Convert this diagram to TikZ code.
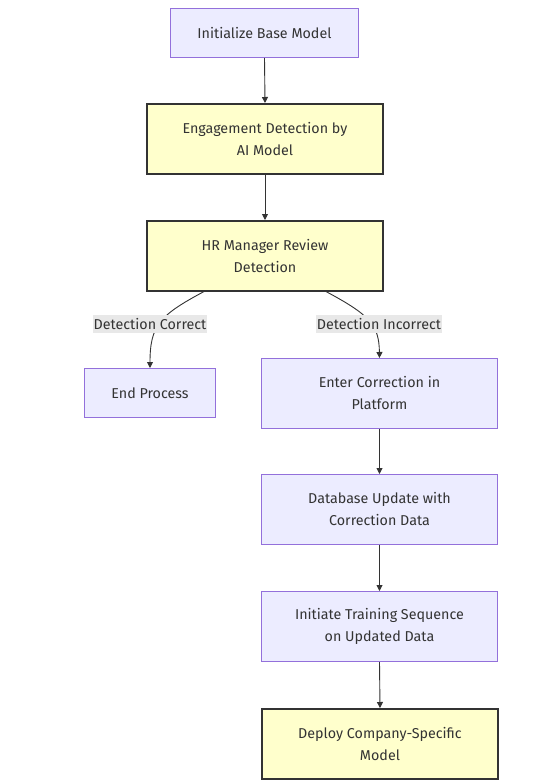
\documentclass[tikz,border=0pt]{standalone}
\usepackage{fontspec}
\setmainfont{Fira Sans}
\usetikzlibrary{arrows.meta}
\definecolor{pfill}{HTML}{ECECFF}
\definecolor{pline}{HTML}{9370DB}
\definecolor{yfill}{HTML}{FFFFCC}
\definecolor{dark}{HTML}{333333}
\definecolor{lblbg}{HTML}{E8E8E8}
\tikzset{
  x=1pt,y=-1pt,
  base/.style={draw, rectangle, text=dark, font=\fontsize{14.3}{22}\selectfont, align=center, inner sep=0pt, anchor=north west},
  pbox/.style={base, fill=pfill, draw=pline, line width=1pt},
  ybox/.style={base, fill=yfill, draw=dark, line width=2pt},
  edge/.style={draw=dark, line width=0.9pt, -{Triangle[length=6pt,width=6pt]}},
  elabel/.style={fill=lblbg, text=dark, font=\fontsize{14.3}{16}\selectfont, inner sep=1pt, minimum height=18pt}
}
\begin{document}
\begin{tikzpicture}
\useasboundingbox (0,0) rectangle (545,782);
\node[pbox, minimum width=188pt, minimum height=49pt] (n1) at (170,8) {Initialize Base Model};
\node[ybox, minimum width=236pt, minimum height=70pt] (n2) at (146,103) {Engagement Detection by\\AI Model};
\node[ybox, minimum width=236pt, minimum height=70pt] (n3) at (146,220) {HR Manager Review\\Detection};
\node[pbox, minimum width=131pt, minimum height=49pt] (n4) at (84,368) {End Process};
\node[pbox, minimum width=236pt, minimum height=70pt] (n5) at (261,358) {Enter Correction in\\Platform};
\node[pbox, minimum width=236pt, minimum height=70pt] (n6) at (261,474) {Database Update with\\Correction Data};
\node[pbox, minimum width=236pt, minimum height=70pt] (n7) at (261,591) {Initiate Training Sequence\\on Updated Data};
\node[ybox, minimum width=236pt, minimum height=70pt] (n8) at (261,708) {Deploy Company-Specific\\Model};
\draw[edge] (n1.south) -- (n2.north);
\draw[edge] (n2.south) -- (n3.north);
\coordinate (a1) at (205,291);
\coordinate (a2) at (325,291);
\draw[edge] (a1) .. controls (160,315) and (150,325) .. (n4.north);
\draw[edge] (a2) .. controls (370,315) and (379,325) .. (n5.north);
\draw[edge] (n5.south) -- (n6.north);
\draw[edge] (n6.south) -- (n7.north);
\draw[edge] (n7.south) -- (n8.north);
\node[elabel] (l1) at (150,324) {Detection Correct};
\node[elabel] (l2) at (379,324) {Detection Incorrect};
\end{tikzpicture}
\end{document}
